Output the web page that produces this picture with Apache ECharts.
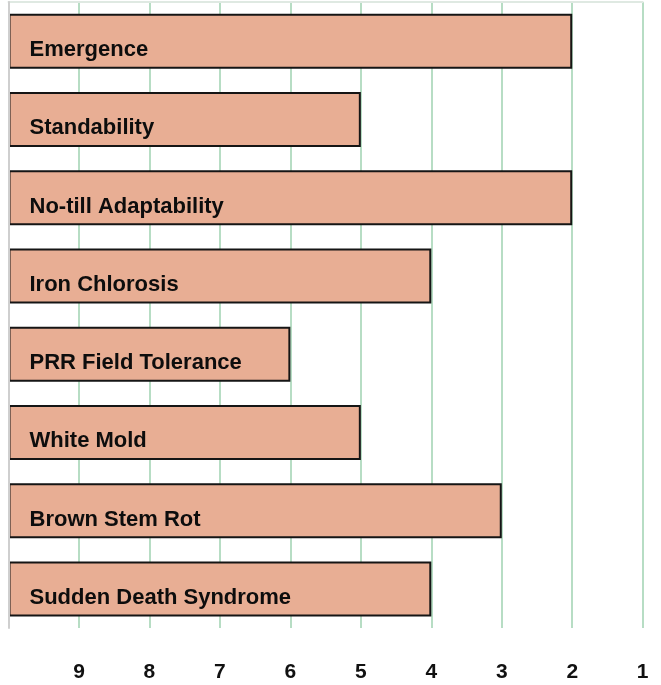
<!DOCTYPE html>
<html>
<head>
<meta charset="utf-8">
<script src="https://cdn.jsdelivr.net/npm/echarts@6/dist/echarts.min.js"></script>
<style>
html,body{margin:0;padding:0;background:#fff;}
#c{width:661px;height:685px;}
</style>
</head>
<body>
<div id="c"></div>
<script>
const categories = ["Emergence","Standability","No-till Adaptability","Iron Chlorosis","PRR Field Tolerance","White Mold","Brown Stem Rot","Sudden Death Syndrome"];
const ratings = [2,5,2,4,6,5,3,4];
const scaleMax = 10;
const scaleMin = 1;
const tickLabels = ["9","8","7","6","5","4","3","2","1"];

const baseVals = ratings.slice();
const visibleVals = ratings.map(v => scaleMax - v);

const chart = echarts.init(document.getElementById('c'), null, {renderer:'canvas'});
const xCommon = {
  type:'value', min:scaleMin, max:scaleMax, interval:1, inverse:true
};
chart.setOption({
  animation:false,
  grid:{left:8.5, right:18.3, top:2, bottom:57, containLabel:false},
  xAxis:[
    Object.assign({}, xCommon, {
      position:'bottom',
      axisLine:{show:false},
      axisTick:{show:false},
      splitLine:{show:true, lineStyle:{color:'#9fd2b0', width:1.5}},
      axisLabel:{
        margin:34,
        color:'#111',
        fontFamily:'Liberation Sans, Arial, sans-serif',
        fontWeight:'bold',
        fontSize:21,
        formatter: v => tickLabels.includes(String(v)) ? String(v) : ''
      }
    }),
    Object.assign({}, xCommon, {
      position:'top',
      axisLine:{show:true, lineStyle:{color:'#dfe9e2', width:2}},
      axisTick:{show:false},
      axisLabel:{show:false},
      splitLine:{show:false}
    })
  ],
  yAxis:{
    type:'category', data:categories, inverse:true, z:5,
    axisLine:{show:true, lineStyle:{color:'#cfcfcf', width:2}},
    axisTick:{show:false},
    axisLabel:{show:false},
    splitLine:{show:false}
  },
  series:[
    {
      type:'bar', stack:'r', data:baseVals, barWidth:55,
      itemStyle:{color:'transparent'}, silent:true
    },
    {
      type:'bar', stack:'r', data:visibleVals, barWidth:55,
      itemStyle:{color:'#e8ae94', borderColor:'#151515', borderWidth:2},
      label:{
        show:true,
        position:'insideLeft',
        distance:21,
        offset:[0,9],
        color:'#0d0d0d',
        fontFamily:'Liberation Sans, Arial, sans-serif',
        fontWeight:'bold',
        fontSize:22,
        formatter: p => categories[p.dataIndex]
      }
    }
  ]
});
</script>
</body>
</html>
